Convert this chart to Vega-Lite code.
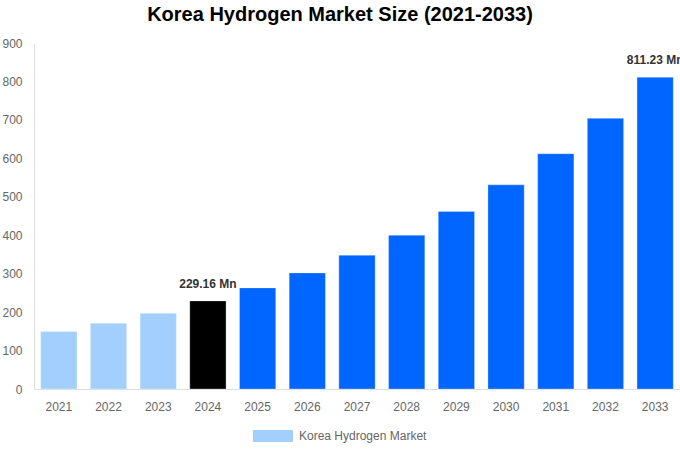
{
  "$schema": "https://vega.github.io/schema/vega-lite/v6.json",
  "width": 646,
  "height": 346,
  "autosize": "none",
  "padding": {"left": 34, "top": 43, "right": 0, "bottom": 61},
  "background": "white",
  "title": {
    "text": "Korea Hydrogen Market Size (2021-2033)",
    "fontSize": 20,
    "fontWeight": "bold",
    "color": "#000000",
    "font": "Liberation Sans",
    "anchor": "middle",
    "dx": -17,
    "offset": 12
  },
  "data": {
    "values": [
      {"year": "2021", "value": 149.5, "phase": "Korea Hydrogen Market", "label": ""},
      {"year": "2022", "value": 171, "phase": "Korea Hydrogen Market", "label": ""},
      {"year": "2023", "value": 197, "phase": "Korea Hydrogen Market", "label": ""},
      {"year": "2024", "value": 229.16, "phase": "Base year", "label": "229.16 Mn"},
      {"year": "2025", "value": 263, "phase": "Forecast", "label": ""},
      {"year": "2026", "value": 302, "phase": "Forecast", "label": ""},
      {"year": "2027", "value": 348, "phase": "Forecast", "label": ""},
      {"year": "2028", "value": 400, "phase": "Forecast", "label": ""},
      {"year": "2029", "value": 462, "phase": "Forecast", "label": ""},
      {"year": "2030", "value": 531, "phase": "Forecast", "label": ""},
      {"year": "2031", "value": 612, "phase": "Forecast", "label": ""},
      {"year": "2032", "value": 704, "phase": "Forecast", "label": ""},
      {"year": "2033", "value": 811.23, "phase": "Forecast", "label": "811.23 Mn"}
    ]
  },
  "encoding": {
    "x": {
      "field": "year",
      "type": "ordinal",
      "title": null,
      "scale": {"paddingInner": 0.27, "paddingOuter": 0.135},
      "axis": {
        "labelAngle": 0,
        "labelPadding": 12,
        "ticks": false,
        "domainColor": "#dddddd",
        "labelColor": "#666666",
        "labelFontSize": 12,
        "labelFont": "Liberation Sans"
      }
    },
    "y": {
      "field": "value",
      "type": "quantitative",
      "title": null,
      "scale": {"domain": [0, 900]},
      "axis": {
        "values": [0, 100, 200, 300, 400, 500, 600, 700, 800, 900],
        "grid": false,
        "ticks": false,
        "domain": true,
        "domainColor": "#dddddd",
        "labelPadding": 12,
        "labelColor": "#666666",
        "labelFontSize": 12,
        "labelFont": "Liberation Sans"
      }
    }
  },
  "layer": [
    {
      "mark": {"type": "bar", "stroke": "#ffffff", "strokeOpacity": 0.3, "strokeWidth": 1},
      "encoding": {
        "color": {
          "field": "phase",
          "type": "nominal",
          "scale": {
            "domain": ["Korea Hydrogen Market", "Base year", "Forecast"],
            "range": ["#a3cfff", "#000000", "#0066ff"]
          },
          "legend": {
            "values": ["Korea Hydrogen Market"],
            "title": null,
            "orient": "none",
            "legendX": 219,
            "legendY": 373,
            "symbolType": "M-1,-0.3H1V0.3H-1Z",
            "symbolSize": 1600,
            "symbolStrokeWidth": 0,
            "labelColor": "#666666",
            "labelFontSize": 12,
            "labelFont": "Liberation Sans",
            "labelOffset": 6
          }
        }
      }
    },
    {
      "mark": {
        "type": "text",
        "dy": -10,
        "baseline": "bottom",
        "fontWeight": "bold",
        "fontSize": 12,
        "font": "Liberation Sans",
        "color": "#333333"
      },
      "encoding": {
        "text": {"field": "label"}
      }
    }
  ],
  "config": {
    "view": {"stroke": null}
  }
}
